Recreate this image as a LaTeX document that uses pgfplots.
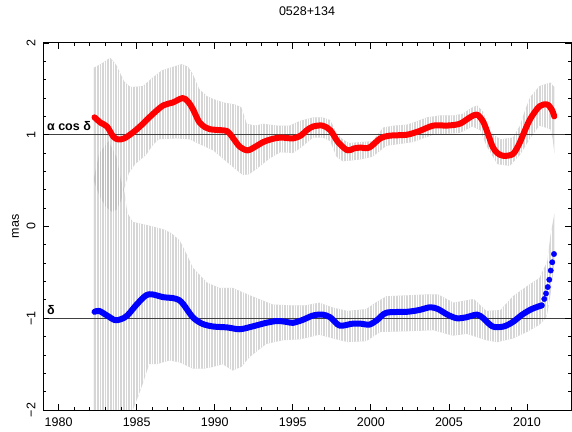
\documentclass[border=0pt]{standalone}
\usepackage{fontspec}
\setmainfont{Liberation Sans}
\usepackage{pgfplots}
\pgfplotsset{compat=1.18}
\usetikzlibrary{calc,patterns.meta}
\newcommand{\lf}{\fontsize{12.5bp}{14bp}\selectfont}
\pgfplotstableread{
x y
1982.25 1.73
1982.8 1.78
1983.3 1.84
1983.7 1.76
1984.2 1.58
1984.6 1.52
1985.4 1.53
1986.0 1.62
1986.6 1.70
1987.3 1.74
1987.9 1.77
1988.3 1.74
1988.6 1.66
1989.0 1.50
1989.5 1.42
1989.9 1.39
1990.6 1.35
1991.3 1.33
1991.7 1.30
1992.05 1.12
1992.6 1.10
1993.1 1.12
1994.0 1.10
1994.8 1.10
1995.45 1.15
1996.3 1.19
1996.9 1.19
1997.4 1.16
1997.8 1.02
1998.2 0.95
1998.6 0.91
1999.3 0.92
2000.1 0.93
2000.8 1.08
2001.5 1.10
2002.3 1.11
2003.0 1.15
2003.6 1.19
2004.4 1.21
2005.3 1.21
2005.9 1.23
2006.4 1.29
2006.8 1.32
2007.2 1.25
2007.6 1.03
2008.3 0.95
2009.1 0.97
2009.55 1.10
2009.9 1.28
2010.2 1.41
2010.8 1.53
2011.5 1.57
2011.75 1.52
2011.75 0.80
2011.65 0.95
2011.5 1.06
2010.8 1.10
2010.2 0.96
2009.55 0.78
2008.9 0.66
2008.1 0.68
2007.4 0.88
2007.0 1.05
2006.5 1.09
2005.7 1.02
2004.0 1.00
2002.7 0.92
2001.0 0.88
2000.1 0.76
1999.3 0.73
1998.2 0.71
1997.8 0.76
1997.4 0.93
1996.9 0.97
1996.3 0.97
1995.45 0.85
1995.0 0.80
1994.2 0.81
1993.5 0.74
1992.7 0.63
1992.2 0.57
1991.8 0.56
1990.8 0.70
1989.9 0.83
1989.0 0.90
1988.4 0.95
1987.5 0.96
1986.4 0.95
1986.0 0.88
1985.6 0.78
1984.9 0.68
1984.5 0.58
1984.2 0.41
1984.0 0.28
1983.7 0.18
1983.4 0.16
1983.0 0.22
1982.6 0.34
1982.25 0.50
}\redband
\pgfplotstableread{
x y
1982.25 0.52
1982.6 0.80
1983.2 0.93
1983.7 0.76
1984.0 0.50
1984.2 0.40
1984.4 0.15
1984.75 0.05
1985.8 0.01
1986.7 -0.03
1987.2 -0.07
1987.75 -0.15
1988.2 -0.30
1988.6 -0.45
1989.5 -0.61
1990.3 -0.67
1991.15 -0.67
1992.4 -0.76
1993.7 -0.85
1995.0 -0.86
1995.8 -0.86
1996.7 -0.83
1997.5 -0.88
1998.5 -0.92
1999.7 -0.90
2000.3 -0.83
2001.0 -0.76
2003.6 -0.74
2004.3 -0.74
2005.3 -0.83
2006.6 -0.79
2007.4 -0.92
2008.3 -0.91
2009.1 -0.76
2010.0 -0.65
2010.8 -0.56
2011.1 -0.45
2011.3 -0.38
2011.5 -0.10
2011.7 0.09
2011.75 0.14
2011.75 -0.40
2011.65 -0.55
2011.5 -0.75
2011.3 -0.95
2011.2 -1.00
2010.8 -1.07
2010.0 -1.15
2009.1 -1.22
2008.1 -1.26
2007.4 -1.24
2006.15 -1.17
2005.25 -1.19
2004.0 -1.13
2002.7 -1.14
2000.6 -1.15
1999.7 -1.25
1998.5 -1.26
1997.8 -1.23
1996.7 -1.18
1995.45 -1.23
1994.35 -1.24
1993.3 -1.28
1992.25 -1.42
1991.7 -1.53
1991.15 -1.57
1990.5 -1.50
1989.9 -1.53
1989.3 -1.55
1988.6 -1.55
1987.75 -1.48
1987.1 -1.46
1986.3 -1.50
1985.8 -1.50
1985.4 -1.71
1985.1 -1.85
1984.75 -2.0
1984.5 -2.6
1982.25 -2.6
}\blueband
\begin{document}
\begin{tikzpicture}
\begin{axis}[name=ax, scale only axis, width=528bp, height=367bp,
  xmin=1979, xmax=2012.82, ymin=-2, ymax=2,
  xtick={1980,1985,1990,1995,2000,2005,2010},
  xticklabels={1980,1985,1990,1995,2000,2005,2010},
  ytick={-2,-1,0,1,2}, yticklabels={−2,−1,0,1,2},
  minor x tick num=4, minor y tick num=4,
  tick align=inside, major tick length=6bp, minor tick length=3bp,
  tick style={black, line width=0.8bp},
  axis line style={line width=1bp},
  axis on top,
  ticklabel style={font=\lf},
  yticklabel style={rotate=90, anchor=south},
  yticklabel shift=4bp, xticklabel shift=4bp,
  title={0528+134},
  title style={font=\lf, at={(0.5,1)}, anchor=south, yshift=18bp},
  ylabel={mas},
  ylabel style={font=\lf, at={(axis description cs:-0.0521,0.5)}, anchor=center},
]
% error bands
\addplot[draw=none, fill=black!32, fill opacity=0.5] table {\redband};
\addplot[draw=none, fill=black!32, fill opacity=0.5] table {\blueband};
\addplot[draw=none, pattern={Lines[angle=90, distance=2.6bp, line width=0.45bp]}, pattern color=white] table {\redband};
\addplot[draw=none, pattern={Lines[angle=90, distance=2.6bp, line width=0.45bp]}, pattern color=white] table {\blueband};
% reference lines
\addplot[black!75, line width=1.2bp] coordinates {(1979,1) (2012.82,1)};
\addplot[black!75, line width=1.2bp] coordinates {(1979,-1) (2012.82,-1)};
% alpha cos delta
\addplot[red, line width=6bp, line cap=round, line join=round, smooth, tension=0.5] coordinates {
(1982.3,1.19) (1982.7,1.13) (1983.1,1.09) (1983.5,0.98) (1983.8,0.95) (1984.2,0.96)
(1984.8,1.03) (1985.4,1.12) (1986.0,1.22) (1986.7,1.32) (1987.3,1.35) (1987.95,1.40)
(1988.3,1.36) (1988.6,1.28) (1989.0,1.14) (1989.4,1.08) (1989.7,1.06) (1990.3,1.05)
(1990.8,1.04) (1991.15,0.97) (1991.6,0.87) (1992.1,0.83) (1992.6,0.87) (1993.1,0.92)
(1993.6,0.95) (1994.2,0.97) (1995.0,0.96) (1995.5,0.99) (1995.9,1.05) (1996.3,1.09)
(1996.9,1.10) (1997.4,1.05) (1997.9,0.92) (1998.5,0.83) (1998.9,0.85) (1999.3,0.86)
(1999.9,0.86) (2000.6,0.96) (2001.2,0.99) (2002.3,1.00) (2003.1,1.04) (2004.0,1.10)
(2004.9,1.10) (2005.7,1.12) (2006.35,1.19) (2006.8,1.22) (2007.2,1.14) (2007.5,1.01)
(2007.8,0.87) (2008.1,0.80) (2008.5,0.77) (2009.1,0.79) (2009.5,0.90) (2009.75,1.00)
(2010.2,1.17) (2010.8,1.31) (2011.3,1.33) (2011.6,1.27) (2011.75,1.20)
};
% delta
\addplot[blue, line width=6bp, line cap=round, line join=round, smooth, tension=0.5] coordinates {
(1982.3,-0.93) (1982.6,-0.92) (1983.1,-0.97) (1983.6,-1.02) (1984.0,-1.01) (1984.4,-0.97)
(1985.0,-0.85) (1985.6,-0.75) (1986.0,-0.74) (1986.7,-0.77) (1987.3,-0.78) (1987.7,-0.80)
(1988.0,-0.85) (1988.6,-0.99) (1989.2,-1.06) (1989.9,-1.09) (1990.8,-1.10) (1991.6,-1.12)
(1992.4,-1.09) (1993.3,-1.05) (1994.0,-1.03) (1994.6,-1.04) (1995.0,-1.05) (1995.6,-1.02)
(1996.3,-0.97) (1996.9,-0.96) (1997.4,-0.99) (1998.0,-1.08) (1998.8,-1.06) (1999.4,-1.06)
(1999.9,-1.07) (2000.4,-1.02) (2001.0,-0.94) (2002.3,-0.93) (2003.1,-0.91) (2003.8,-0.88)
(2004.3,-0.90) (2004.9,-0.96) (2005.5,-1.00) (2006.1,-0.99) (2006.8,-0.96) (2007.2,-1.00)
(2007.8,-1.09) (2008.5,-1.09) (2009.1,-1.04) (2009.7,-0.96) (2010.3,-0.90) (2010.94,-0.86)
};
\addplot[blue, only marks, mark=*, mark size=2.7bp] coordinates {
(2010.94,-0.86) (2011.11,-0.79) (2011.22,-0.73) (2011.33,-0.66) (2011.43,-0.58)
(2011.52,-0.48) (2011.62,-0.39) (2011.73,-0.30)
};
\node[anchor=base west, inner sep=0pt, font=\bfseries\lf] at (axis cs:1979.25,1) [yshift=4bp] {α cos δ};
\node[anchor=base west, inner sep=0pt, font=\bfseries\lf] at (axis cs:1979.25,-1) [yshift=4bp] {δ};
\end{axis}
\pgfresetboundingbox
\path ($(ax.south west)+(-43bp,-22bp)$) rectangle ($(ax.north east)+(1bp,43bp)$);
\end{tikzpicture}
\end{document}
